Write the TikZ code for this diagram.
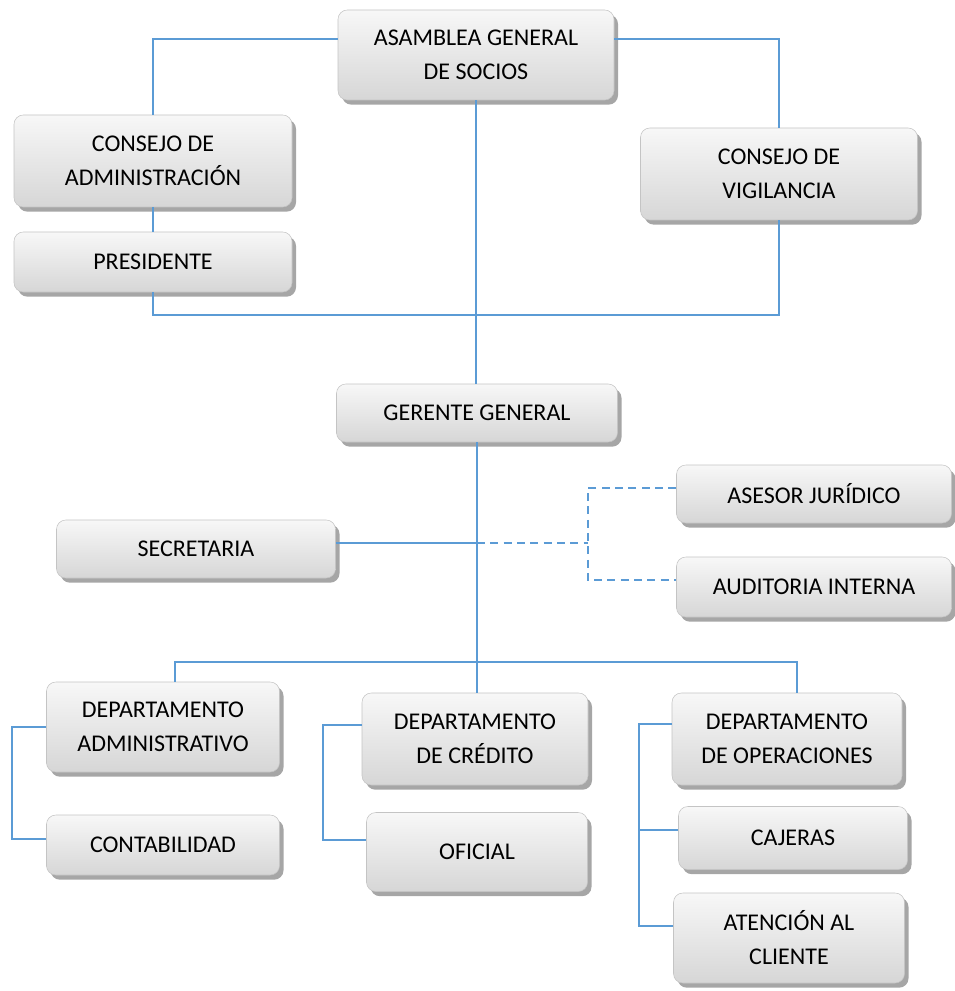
\documentclass[tikz,border=0pt]{standalone}
\usepackage{fontspec}
\setmainfont{Carlito}
\usetikzlibrary{positioning,shadows,calc}
\definecolor{linkblue}{HTML}{5B9BD5}
\definecolor{boxedge}{HTML}{C4C4C4}
\tikzset{
    orgbox/.style={
        rounded corners=7pt,
        draw=boxedge,
        line width=0.4pt,
        top color=gray!6,
        bottom color=gray!32,
        drop shadow={shadow xshift=3pt,shadow yshift=-3.5pt,fill=gray!70,opacity=1},
        align=center,
        font=\fontsize{18}{25.5}\selectfont,
        inner sep=0pt
    },
    boxsize/.style 2 args={
        minimum width=#1*0.75pt,
        minimum height=#2*0.75pt
    },
    link/.style={
        line width=1.3pt,
        color=linkblue
    },
    dashlink/.style={
        link,
        dash pattern=on 6pt off 4pt
    }
}

\begin{document}
\begin{tikzpicture}[x=0.75pt,y=-0.75pt]

    \useasboundingbox (0,0) rectangle (955,991);

    % Asamblea y consejos
    \node[orgbox,boxsize={276}{90}] (asamblea) at (476,55)
        {ASAMBLEA GENERAL\\DE SOCIOS};
    \node[orgbox,boxsize={278}{92}] (consejoadm) at (153,161)
        {CONSEJO DE\\ADMINISTRACIÓN};
    \node[orgbox,boxsize={278}{60}] (presidente) at (153,262)
        {PRESIDENTE};
    \node[orgbox,boxsize={277}{92}] (vigilancia) at (779,174)
        {CONSEJO DE\\VIGILANCIA};

    % Gerencia
    \node[orgbox,boxsize={281}{58}] (gerente) at (477,413)
        {GERENTE GENERAL};
    \node[orgbox,boxsize={279}{58}] (secretaria) at (196,549)
        {SECRETARIA};
    \node[orgbox,boxsize={275}{58}] (asesor) at (814,494)
        {ASESOR JURÍDICO};
    \node[orgbox,boxsize={275}{60}] (auditoria) at (814,587)
        {AUDITORIA INTERNA};

    % Departamentos
    \node[orgbox,boxsize={233}{90}] (dadmin) at (163,727)
        {DEPARTAMENTO\\ADMINISTRATIVO};
    \node[orgbox,boxsize={233}{60}] (contab) at (163,845)
        {CONTABILIDAD};
    \node[orgbox,boxsize={226}{92}] (dcredito) at (475,739)
        {DEPARTAMENTO\\DE CRÉDITO};
    \node[orgbox,boxsize={221}{79}] (oficial) at (477,852)
        {OFICIAL};
    \node[orgbox,boxsize={230}{92}] (doper) at (787,739)
        {DEPARTAMENTO\\DE OPERACIONES};
    \node[orgbox,boxsize={229}{63}] (cajeras) at (793,838)
        {CAJERAS};
    \node[orgbox,boxsize={231}{90}] (atencion) at (789,938)
        {ATENCIÓN AL\\CLIENTE};

    % Puntos de union
    \coordinate (bridge) at (477,315);
    \coordinate (deptbus) at (477,662);
    \coordinate (secjoin) at (477,543);
    \coordinate (advisors) at (588,543);

    % Lineas superiores
    \draw[link] ([yshift=12pt]asamblea.west) -| (consejoadm.north);
    \draw[link] ([yshift=12pt]asamblea.east) -| (vigilancia.north);
    \draw[link] (consejoadm.south) -- (presidente.north);
    \draw[link] (presidente.south) |- (bridge) -| (vigilancia.south);
    \draw[link] (asamblea.south) -- (asamblea.south |- gerente.north);

    % Gerencia
    \draw[link] (gerente.south) -- (gerente.south |- dcredito.north);
    \draw[link] (secjoin -| secretaria.east) -- (secjoin);
    \draw[dashlink] (secjoin) -- (advisors);
    \draw[dashlink] ([yshift=4.5pt]asesor.west) -| (advisors)
        |- ([yshift=5pt]auditoria.west);

    % Departamentos
    \draw[link] ([xshift=9pt]dadmin.north) |- (deptbus)
        -| ([xshift=7.5pt]doper.north);
    \draw[link] (dadmin.west) -- ++(-34,0)
        |- ([yshift=4.5pt]contab.west);
    \draw[link] ([yshift=10.5pt]dcredito.west) -- ++(-39,0)
        |- ([yshift=9pt]oficial.west);
    \draw[link] ([yshift=11pt]doper.west) -- ++(-33,0) coordinate (opsrail)
        |- ([yshift=9pt]atencion.west);
    \draw[link] ([yshift=6pt]cajeras.west) -- ([yshift=6pt]cajeras.west -| opsrail);

\end{tikzpicture}
\end{document}
